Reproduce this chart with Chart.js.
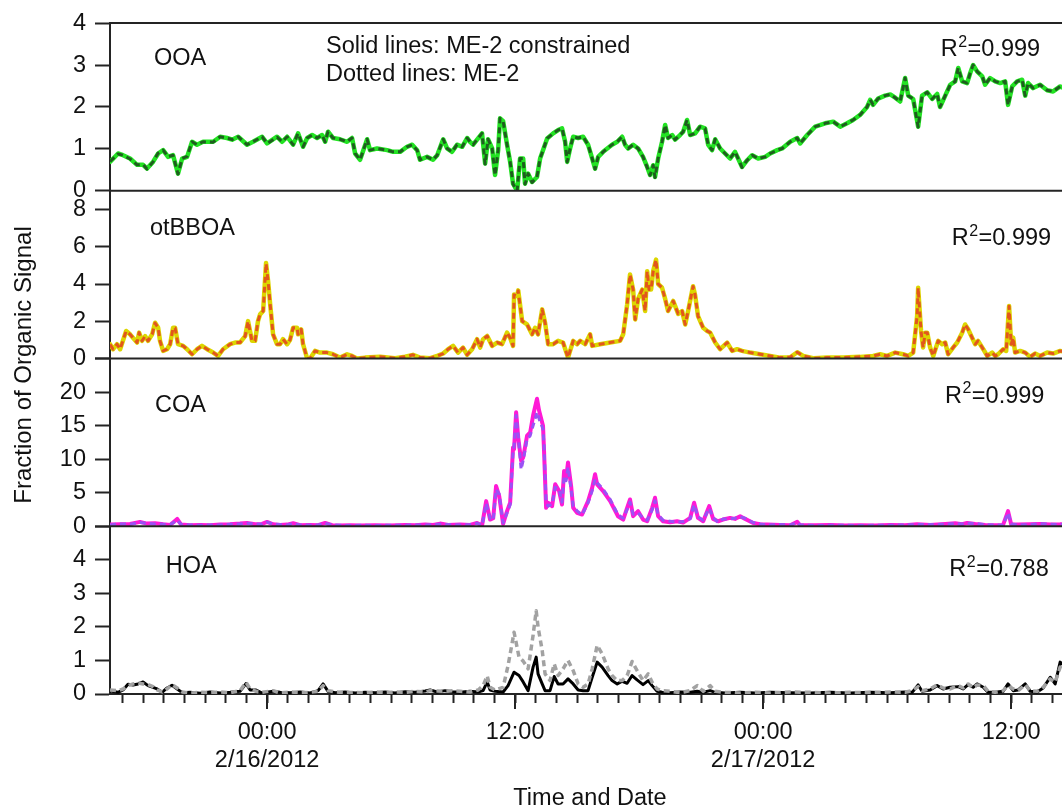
<!DOCTYPE html>
<html>
<head>
<meta charset="utf-8">
<title>ME-2 factor time series</title>
<script src="https://cdn.jsdelivr.net/npm/chart.js@4.4.1/dist/chart.umd.min.js"></script>
<style>
  html, body { margin: 0; padding: 0; background: #ffffff; }
  #wrap { position: relative; width: 1062px; height: 808px; }
</style>
</head>
<body>
<div id="wrap"><canvas id="chart"></canvas></div>
<script>
// Time is given in hours relative to 2/16/2012 00:00.
const majorHours = [0, 12, 24, 36];
const majorTimeLabels = ['00:00', '12:00', '00:00', '12:00'];
const majorDateLabels = ['2/16/2012', '', '2/17/2012', ''];

// ---- OOA ----
const ooaHours = [
  -7.60, -7.21, -6.97, -6.63, -6.29, -6.00, -5.81, -5.52, -5.27, -5.03,
  -4.79, -4.55, -4.31, -4.11, -3.87, -3.63, -3.39, -3.10, -2.61, -2.27,
  -1.94, -1.69, -1.40, -0.97, -0.68, -0.24, 0.00, 0.48, 0.73, 0.97,
  1.26, 1.50, 1.74, 1.94, 2.18, 2.42, 2.66, 2.81, 2.95, 3.19,
  3.53, 3.87, 4.11, 4.26, 4.50, 4.84, 4.98, 5.32, 5.81, 6.10,
  6.44, 6.77, 7.02, 7.26, 7.40, 7.74, 8.03, 8.23, 8.52, 8.71,
  8.95, 9.19, 9.44, 9.68, 9.82, 9.97, 10.16, 10.40, 10.55, 10.69,
  10.89, 11.03, 11.18, 11.27, 11.42, 11.61, 11.76, 11.90, 12.10, 12.24,
  12.39, 12.48, 12.63, 12.82, 13.06, 13.21, 13.55, 13.84, 14.08, 14.27,
  14.42, 14.52, 14.66, 14.81, 15.05, 15.29, 15.53, 15.73, 15.87, 16.02,
  16.26, 16.69, 16.94, 17.18, 17.32, 17.47, 17.71, 17.95, 18.19, 18.39,
  18.53, 18.68, 18.77, 18.92, 19.11, 19.26, 19.40, 19.60, 19.74, 19.98,
  20.13, 20.32, 20.47, 20.71, 20.95, 21.19, 21.34, 21.53, 21.68, 21.92,
  22.16, 22.40, 22.64, 22.79, 22.98, 23.23, 23.47, 23.76, 24.10, 24.34,
  24.68, 24.92, 25.31, 25.65, 25.79, 26.13, 26.52, 27.00, 27.39, 27.73,
  28.06, 28.35, 28.69, 29.03, 29.18, 29.32, 29.56, 29.90, 30.15, 30.39,
  30.63, 30.87, 31.02, 31.26, 31.50, 31.69, 31.94, 32.18, 32.42, 32.56,
  32.81, 33.05, 33.29, 33.44, 33.63, 33.87, 34.02, 34.16, 34.35, 34.60,
  34.74, 34.98, 35.23, 35.47, 35.71, 35.85, 36.05, 36.29, 36.53, 36.68,
  36.82, 37.06, 37.40, 37.74, 38.03, 38.37, 38.66
];
const ooaConstrained = [
  0.69, 0.89, 0.85, 0.77, 0.62, 0.62, 0.53, 0.69, 0.89, 0.97,
  0.81, 0.85, 0.41, 0.77, 0.81, 1.17, 1.10, 1.17, 1.17, 1.29,
  1.26, 1.22, 1.29, 1.10, 1.17, 1.29, 1.13, 1.29, 1.17, 1.29,
  1.10, 1.37, 1.05, 1.26, 1.33, 1.26, 1.33, 1.17, 1.41, 1.26,
  1.23, 1.17, 1.26, 0.89, 0.74, 1.23, 0.97, 1.01, 0.97, 0.93,
  0.93, 1.05, 1.10, 0.97, 0.74, 0.81, 0.74, 0.85, 1.23, 1.01,
  0.93, 1.10, 1.05, 1.26, 1.17, 1.10, 1.22, 1.37, 0.65, 1.23,
  1.01, 0.38, 0.97, 1.73, 1.66, 1.10, 0.69, 0.17, 0.00, 0.77,
  0.77, 0.17, 0.41, 0.21, 0.33, 0.77, 1.25, 1.37, 1.45, 1.49,
  1.17, 0.69, 1.01, 1.29, 1.26, 1.29, 1.10, 0.77, 0.53, 0.81,
  0.93, 1.10, 1.17, 1.29, 1.10, 1.01, 1.10, 1.01, 0.81, 0.57,
  0.38, 0.61, 0.33, 0.77, 1.17, 1.57, 1.26, 1.33, 1.22, 1.33,
  1.41, 1.69, 1.33, 1.37, 1.53, 1.49, 1.10, 0.97, 1.23, 1.01,
  0.89, 0.77, 0.93, 0.77, 0.57, 0.73, 0.85, 0.77, 0.81, 0.89,
  0.97, 1.01, 1.17, 1.26, 1.13, 1.33, 1.53, 1.61, 1.65, 1.53,
  1.61, 1.69, 1.81, 2.00, 2.17, 2.05, 2.20, 2.27, 2.30, 2.22,
  2.13, 2.69, 2.27, 2.19, 1.53, 2.27, 2.35, 2.19, 2.31, 2.00,
  2.27, 2.53, 2.61, 2.93, 2.61, 2.57, 2.81, 3.00, 2.85, 2.73,
  2.53, 2.69, 2.61, 2.57, 2.61, 2.05, 2.49, 2.61, 2.65, 2.27,
  2.57, 2.45, 2.53, 2.40, 2.37, 2.49, 2.42
];
const ooaME2 = [
  0.70, 0.88, 0.85, 0.76, 0.62, 0.63, 0.52, 0.69, 0.90, 0.97,
  0.81, 0.85, 0.40, 0.77, 0.82, 1.17, 1.10, 1.17, 1.16, 1.29,
  1.26, 1.22, 1.29, 1.10, 1.17, 1.29, 1.13, 1.28, 1.17, 1.29,
  1.10, 1.37, 1.05, 1.26, 1.33, 1.26, 1.33, 1.17, 1.41, 1.26,
  1.23, 1.17, 1.26, 0.89, 0.74, 1.23, 0.97, 1.01, 0.97, 0.93,
  0.93, 1.05, 1.10, 0.97, 0.74, 0.81, 0.74, 0.85, 1.23, 1.01,
  0.93, 1.10, 1.05, 1.26, 1.17, 1.10, 1.22, 1.37, 0.64, 1.23,
  1.01, 0.37, 0.97, 1.73, 1.66, 1.10, 0.69, 0.16, 0.00, 0.77,
  0.77, 0.16, 0.41, 0.20, 0.33, 0.77, 1.25, 1.37, 1.45, 1.49,
  1.17, 0.69, 1.01, 1.29, 1.26, 1.29, 1.10, 0.77, 0.52, 0.81,
  0.93, 1.10, 1.17, 1.29, 1.10, 1.01, 1.10, 1.01, 0.81, 0.56,
  0.37, 0.61, 0.32, 0.77, 1.17, 1.57, 1.26, 1.33, 1.22, 1.33,
  1.41, 1.69, 1.33, 1.37, 1.53, 1.49, 1.10, 0.97, 1.23, 1.01,
  0.89, 0.77, 0.93, 0.77, 0.56, 0.73, 0.85, 0.77, 0.81, 0.89,
  0.97, 1.01, 1.17, 1.26, 1.13, 1.33, 1.53, 1.61, 1.65, 1.53,
  1.61, 1.69, 1.81, 2.00, 2.17, 2.05, 2.20, 2.27, 2.30, 2.22,
  2.13, 2.69, 2.27, 2.19, 1.52, 2.27, 2.35, 2.19, 2.31, 2.00,
  2.27, 2.53, 2.61, 2.93, 2.61, 2.57, 2.81, 3.00, 2.85, 2.73,
  2.53, 2.69, 2.61, 2.57, 2.61, 2.04, 2.49, 2.61, 2.65, 2.27,
  2.57, 2.45, 2.53, 2.40, 2.37, 2.49, 2.42
];

// ---- otBBOA ----
const bboaHours = [
  -7.60, -7.45, -7.26, -7.11, -6.82, -6.63, -6.48, -6.29, -6.19, -6.05,
  -5.90, -5.76, -5.56, -5.42, -5.27, -5.18, -5.03, -4.84, -4.69, -4.55,
  -4.45, -4.31, -4.06, -3.87, -3.63, -3.39, -3.15, -2.90, -2.61, -2.37,
  -2.13, -1.79, -1.55, -1.31, -1.06, -0.92, -0.73, -0.58, -0.44, -0.34,
  -0.19, -0.05, 0.05, 0.15, 0.29, 0.48, 0.63, 0.77, 0.97, 1.11,
  1.26, 1.45, 1.50, 1.65, 1.74, 1.94, 2.08, 2.32, 2.56, 2.90,
  3.19, 3.53, 3.87, 4.11, 4.35, 4.74, 5.47, 6.19, 6.68, 7.06,
  7.40, 7.89, 8.23, 8.52, 8.76, 9.00, 9.24, 9.48, 9.68, 9.92,
  10.16, 10.31, 10.45, 10.65, 10.89, 11.13, 11.37, 11.61, 11.76, 11.90,
  11.95, 12.10, 12.15, 12.34, 12.58, 12.82, 12.97, 13.11, 13.31, 13.45,
  13.60, 13.84, 14.08, 14.32, 14.56, 14.71, 14.81, 15.00, 15.15, 15.39,
  15.63, 15.73, 16.11, 16.60, 17.08, 17.23, 17.42, 17.56, 17.71, 17.81,
  17.95, 18.15, 18.29, 18.39, 18.48, 18.58, 18.68, 18.82, 18.92, 19.11,
  19.26, 19.40, 19.65, 19.89, 20.08, 20.23, 20.37, 20.61, 20.71, 20.85,
  21.10, 21.29, 21.44, 21.68, 21.92, 22.26, 22.50, 22.74, 22.98, 23.37,
  23.85, 24.34, 24.82, 25.31, 25.65, 25.94, 26.42, 27.10, 27.87, 28.69,
  29.32, 29.66, 30.00, 30.39, 30.77, 31.02, 31.26, 31.45, 31.50, 31.64,
  31.74, 31.84, 31.94, 32.08, 32.23, 32.47, 32.66, 32.81, 32.95, 33.19,
  33.39, 33.63, 33.77, 33.92, 34.11, 34.26, 34.40, 34.65, 34.84, 35.08,
  35.23, 35.37, 35.61, 35.76, 35.90, 36.00, 36.10, 36.19, 36.44, 36.68,
  36.92, 37.16, 37.40, 37.74, 38.03, 38.37, 38.66
];
const bboaConstrained = [
  0.77, 0.50, 0.77, 0.50, 1.48, 1.30, 1.10, 0.86, 1.39, 0.95,
  1.20, 0.95, 1.30, 1.92, 1.65, 0.95, 0.41, 0.50, 0.77, 1.65,
  1.65, 0.77, 0.68, 0.50, 0.23, 0.50, 0.68, 0.50, 0.32, 0.14,
  0.50, 0.77, 0.86, 0.86, 1.20, 2.01, 0.95, 0.95, 2.01, 2.37,
  2.55, 5.13, 4.15, 2.90, 1.30, 0.77, 0.77, 1.04, 0.77, 1.00,
  1.65, 1.65, 1.30, 1.57, 0.77, 0.00, 0.00, 0.41, 0.32, 0.32,
  0.23, 0.05, 0.23, 0.14, 0.00, 0.05, 0.10, 0.02, 0.10, 0.20,
  0.05, 0.02, 0.14, 0.27, 0.50, 0.68, 0.32, 0.59, 0.20, 0.50,
  1.04, 0.59, 1.04, 1.21, 0.68, 0.86, 0.77, 1.39, 1.10, 0.68,
  3.44, 3.35, 3.66, 2.01, 1.83, 1.30, 1.65, 1.30, 2.64, 1.92,
  0.77, 0.77, 0.95, 0.86, 0.05, 0.59, 0.95, 0.77, 0.95, 0.77,
  1.30, 0.68, 0.77, 0.86, 0.95, 1.30, 2.90, 4.51, 3.70, 2.10,
  3.20, 3.70, 2.55, 4.69, 3.70, 3.70, 4.69, 5.31, 4.00, 3.80,
  3.20, 2.55, 3.09, 2.40, 2.55, 1.83, 2.55, 3.88, 3.40, 2.28,
  1.65, 1.48, 1.39, 0.86, 0.50, 0.86, 0.41, 0.50, 0.41, 0.32,
  0.23, 0.14, 0.05, 0.07, 0.34, 0.14, 0.02, 0.05, 0.05, 0.09,
  0.14, 0.23, 0.14, 0.32, 0.23, 0.14, 0.32, 2.28, 3.80, 1.48,
  0.59, 1.39, 1.39, 0.59, 0.14, 0.95, 0.77, 0.86, 0.23, 0.59,
  0.86, 1.39, 1.83, 1.57, 1.12, 0.77, 0.95, 0.50, 0.14, 0.32,
  0.14, 0.23, 0.50, 0.41, 2.82, 0.77, 1.12, 0.32, 0.41, 0.32,
  0.09, 0.27, 0.14, 0.32, 0.27, 0.41, 0.35
];
const bboaME2 = [
  0.76, 0.50, 0.77, 0.51, 1.47, 1.30, 1.10, 0.86, 1.39, 0.95,
  1.20, 0.95, 1.30, 1.91, 1.65, 0.95, 0.41, 0.50, 0.77, 1.65,
  1.64, 0.77, 0.68, 0.50, 0.23, 0.50, 0.68, 0.50, 0.32, 0.14,
  0.50, 0.77, 0.86, 0.86, 1.20, 2.00, 0.95, 0.95, 2.01, 2.37,
  2.55, 5.10, 4.15, 2.90, 1.30, 0.77, 0.77, 1.04, 0.77, 1.00,
  1.65, 1.65, 1.30, 1.57, 0.77, 0.00, 0.00, 0.41, 0.32, 0.32,
  0.23, 0.05, 0.23, 0.14, 0.00, 0.05, 0.10, 0.02, 0.10, 0.20,
  0.05, 0.02, 0.14, 0.27, 0.50, 0.68, 0.32, 0.59, 0.20, 0.50,
  1.04, 0.59, 1.04, 1.21, 0.68, 0.86, 0.77, 1.39, 1.10, 0.68,
  3.42, 3.35, 3.64, 2.01, 1.83, 1.30, 1.65, 1.30, 2.63, 1.92,
  0.77, 0.77, 0.95, 0.86, 0.05, 0.59, 0.95, 0.77, 0.95, 0.77,
  1.30, 0.68, 0.77, 0.86, 0.95, 1.30, 2.90, 4.50, 3.70, 2.10,
  3.20, 3.70, 2.55, 4.68, 3.70, 3.70, 4.68, 5.30, 4.00, 3.80,
  3.20, 2.55, 3.09, 2.40, 2.55, 1.83, 2.55, 3.87, 3.40, 2.28,
  1.65, 1.48, 1.39, 0.86, 0.50, 0.86, 0.41, 0.50, 0.41, 0.32,
  0.23, 0.14, 0.05, 0.07, 0.34, 0.14, 0.02, 0.05, 0.05, 0.09,
  0.14, 0.23, 0.14, 0.32, 0.23, 0.14, 0.32, 2.27, 3.79, 1.48,
  0.59, 1.39, 1.39, 0.59, 0.14, 0.95, 0.77, 0.86, 0.23, 0.59,
  0.86, 1.39, 1.83, 1.57, 1.12, 0.77, 0.95, 0.50, 0.14, 0.32,
  0.14, 0.23, 0.50, 0.41, 2.81, 0.77, 1.12, 0.32, 0.41, 0.32,
  0.09, 0.27, 0.14, 0.32, 0.27, 0.41, 0.35
];

// ---- COA ----
const coaHours = [
  -7.60, -7.11, -6.63, -6.15, -5.81, -5.42, -5.03, -4.69, -4.35, -4.16,
  -3.73, -3.24, -2.76, -2.27, -1.79, -1.31, -0.97, -0.58, -0.24, 0.00,
  0.29, 0.63, 0.97, 1.26, 1.60, 2.08, 2.47, 2.81, 3.15, 3.53,
  4.02, 4.50, 5.23, 5.95, 6.68, 7.16, 7.65, 8.03, 8.37, 8.76,
  9.34, 9.82, 10.16, 10.40, 10.60, 10.79, 10.94, 11.08, 11.23, 11.42,
  11.61, 11.76, 11.90, 11.95, 12.05, 12.15, 12.29, 12.39, 12.58, 12.73,
  12.87, 13.06, 13.16, 13.35, 13.40, 13.50, 13.60, 13.79, 13.94, 14.13,
  14.27, 14.37, 14.47, 14.56, 14.71, 14.81, 15.00, 15.24, 15.53, 15.73,
  15.87, 15.97, 16.26, 16.60, 16.98, 17.23, 17.42, 17.56, 17.71, 17.95,
  18.19, 18.39, 18.63, 18.77, 18.92, 19.16, 19.50, 19.84, 20.13, 20.47,
  20.66, 20.85, 21.10, 21.39, 21.58, 21.82, 22.06, 22.40, 22.64, 22.89,
  23.13, 23.52, 23.85, 24.19, 24.82, 25.31, 25.65, 25.79, 26.52, 27.24,
  27.97, 28.69, 29.42, 30.15, 30.87, 31.45, 32.08, 32.81, 33.29, 33.63,
  33.87, 34.26, 34.74, 35.23, 35.61, 35.85, 36.00, 36.34, 36.92, 37.40,
  37.89, 38.37, 38.66
];
const coaConstrained = [
  0.25, 0.30, 0.35, 0.65, 0.40, 0.45, 0.30, 0.20, 1.10, 0.25,
  0.15, 0.20, 0.15, 0.25, 0.30, 0.40, 0.50, 0.30, 0.35, 0.65,
  0.30, 0.20, 0.25, 0.45, 0.15, 0.20, 0.15, 0.50, 0.15, 0.10,
  0.15, 0.10, 0.15, 0.10, 0.20, 0.15, 0.25, 0.20, 0.40, 0.20,
  0.25, 0.20, 0.50, 0.10, 3.75, 1.00, 1.20, 6.00, 4.50, 0.35,
  2.25, 3.50, 11.75, 11.50, 17.00, 13.25, 9.75, 10.25, 13.50, 14.00,
  16.50, 19.00, 17.25, 15.00, 11.25, 2.75, 3.50, 3.00, 6.25, 5.25,
  3.25, 8.25, 7.25, 9.50, 6.00, 2.75, 2.00, 1.75, 3.75, 5.75,
  7.75, 6.25, 5.25, 3.75, 1.50, 1.00, 2.75, 4.00, 1.50, 2.25,
  1.00, 0.75, 2.75, 4.25, 1.50, 0.75, 0.60, 0.75, 0.55, 1.25,
  3.50, 1.25, 0.75, 3.00, 1.10, 0.75, 1.00, 1.25, 1.10, 1.50,
  1.10, 0.50, 0.30, 0.25, 0.20, 0.15, 0.65, 0.15, 0.15, 0.20,
  0.10, 0.15, 0.10, 0.20, 0.15, 0.30, 0.20, 0.35, 0.45, 0.30,
  0.50, 0.35, 0.20, 0.15, 0.20, 2.25, 0.30, 0.25, 0.30, 0.35,
  0.25, 0.30, 0.35
];
const coaME2 = [
  0.20, 0.35, 0.30, 0.55, 0.45, 0.35, 0.30, 0.25, 0.90, 0.30,
  0.20, 0.15, 0.20, 0.20, 0.30, 0.35, 0.45, 0.35, 0.30, 0.60,
  0.35, 0.25, 0.20, 0.40, 0.20, 0.15, 0.20, 0.45, 0.20, 0.15,
  0.10, 0.15, 0.12, 0.15, 0.15, 0.20, 0.20, 0.25, 0.30, 0.25,
  0.20, 0.25, 0.45, 0.15, 3.40, 1.20, 0.90, 5.50, 4.80, 0.50,
  2.00, 3.20, 11.00, 12.00, 16.50, 13.50, 8.50, 9.80, 13.00, 13.50,
  15.00, 17.00, 16.00, 14.50, 12.00, 3.50, 3.00, 3.30, 5.80, 5.50,
  3.60, 7.50, 6.80, 8.80, 5.50, 3.00, 2.30, 1.70, 3.50, 5.30,
  7.00, 6.50, 5.50, 4.00, 1.70, 1.20, 2.50, 3.60, 1.80, 2.00,
  1.20, 0.90, 2.40, 3.80, 1.70, 0.90, 0.75, 0.60, 0.70, 1.10,
  3.20, 1.40, 0.90, 2.70, 1.30, 0.60, 1.10, 1.10, 1.20, 1.40,
  1.20, 0.55, 0.35, 0.20, 0.25, 0.20, 0.55, 0.20, 0.10, 0.15,
  0.15, 0.10, 0.15, 0.15, 0.20, 0.25, 0.25, 0.30, 0.40, 0.35,
  0.45, 0.40, 0.25, 0.20, 0.15, 2.00, 0.35, 0.20, 0.25, 0.40,
  0.30, 0.25, 0.30
];

// ---- HOA ----
const hoaHours = [
  -7.60, -7.21, -6.97, -6.73, -6.48, -6.24, -6.00, -5.76, -5.52, -5.32,
  -5.08, -4.84, -4.60, -4.35, -4.11, -3.73, -3.24, -2.76, -2.27, -1.79,
  -1.31, -1.02, -0.82, -0.53, -0.24, 0.29, 0.63, 1.11, 1.60, 2.08,
  2.47, 2.71, 2.95, 3.29, 3.77, 4.26, 4.74, 5.23, 5.71, 6.19,
  6.68, 7.16, 7.65, 7.89, 8.23, 8.61, 8.95, 9.34, 9.82, 10.21,
  10.45, 10.65, 10.79, 11.03, 11.42, 11.66, 11.95, 12.19, 12.39, 12.63,
  12.87, 13.02, 13.11, 13.31, 13.45, 13.69, 13.89, 14.08, 14.32, 14.56,
  14.81, 15.05, 15.29, 15.53, 15.73, 15.97, 16.21, 16.50, 16.69, 16.94,
  17.18, 17.42, 17.66, 17.90, 18.19, 18.44, 18.63, 18.87, 19.11, 19.50,
  19.98, 20.47, 20.81, 21.10, 21.44, 21.68, 22.16, 22.89, 23.61, 24.34,
  25.31, 26.27, 27.24, 28.21, 29.18, 30.15, 30.87, 31.21, 31.50, 31.69,
  32.08, 32.42, 32.71, 33.05, 33.44, 33.68, 33.92, 34.16, 34.35, 34.65,
  34.89, 35.23, 35.61, 35.85, 36.10, 36.34, 36.68, 36.92, 37.26, 37.55,
  37.89, 38.13, 38.37, 38.66
];
const hoaConstrained = [
  0.09, 0.05, 0.12, 0.29, 0.27, 0.30, 0.36, 0.25, 0.20, 0.15,
  0.05, 0.18, 0.26, 0.15, 0.04, 0.05, 0.02, 0.06, 0.03, 0.05,
  0.08, 0.31, 0.12, 0.12, 0.03, 0.08, 0.05, 0.04, 0.06, 0.03,
  0.10, 0.30, 0.08, 0.04, 0.06, 0.03, 0.05, 0.04, 0.06, 0.03,
  0.07, 0.05, 0.09, 0.12, 0.06, 0.10, 0.07, 0.05, 0.08, 0.06,
  0.10, 0.36, 0.12, 0.08, 0.06, 0.25, 0.65, 0.55, 0.36, 0.10,
  0.80, 1.10, 0.60, 0.30, 0.10, 0.10, 0.52, 0.30, 0.30, 0.45,
  0.30, 0.12, 0.10, 0.10, 0.50, 0.95, 0.80, 0.55, 0.40, 0.30,
  0.38, 0.32, 0.55, 0.42, 0.28, 0.40, 0.25, 0.08, 0.05, 0.04,
  0.06, 0.05, 0.08, 0.05, 0.10, 0.05, 0.03, 0.05, 0.03, 0.05,
  0.04, 0.03, 0.05, 0.03, 0.05, 0.04, 0.06, 0.05, 0.27, 0.08,
  0.12, 0.25, 0.15, 0.20, 0.22, 0.15, 0.28, 0.20, 0.30, 0.20,
  0.05, 0.05, 0.08, 0.30, 0.10, 0.12, 0.30, 0.08, 0.06, 0.18,
  0.50, 0.30, 0.95, 0.80
];
const hoaME2 = [
  0.12, 0.10, 0.15, 0.25, 0.30, 0.33, 0.30, 0.28, 0.22, 0.12,
  0.06, 0.15, 0.28, 0.18, 0.06, 0.03, 0.05, 0.04, 0.06, 0.04,
  0.10, 0.35, 0.15, 0.08, 0.05, 0.10, 0.03, 0.06, 0.04, 0.05,
  0.08, 0.25, 0.10, 0.06, 0.04, 0.05, 0.03, 0.06, 0.04, 0.06,
  0.05, 0.08, 0.06, 0.10, 0.09, 0.08, 0.10, 0.08, 0.06, 0.12,
  0.25, 0.54, 0.20, 0.12, 0.20, 0.85, 1.84, 1.10, 0.98, 0.75,
  1.75, 2.48, 2.00, 1.30, 0.60, 0.40, 0.90, 0.55, 0.75, 1.00,
  0.70, 0.30, 0.20, 0.30, 0.75, 1.45, 1.20, 0.75, 0.55, 0.40,
  0.40, 0.55, 0.97, 0.70, 0.40, 0.60, 0.35, 0.15, 0.10, 0.08,
  0.04, 0.10, 0.25, 0.08, 0.25, 0.08, 0.05, 0.03, 0.05, 0.03,
  0.06, 0.05, 0.03, 0.05, 0.04, 0.06, 0.05, 0.10, 0.22, 0.10,
  0.15, 0.27, 0.18, 0.15, 0.25, 0.18, 0.30, 0.18, 0.27, 0.25,
  0.08, 0.05, 0.10, 0.25, 0.15, 0.10, 0.28, 0.10, 0.08, 0.20,
  0.45, 0.35, 0.80, 0.70
];

const TEXT = '#111111';
const AXIS = '#242424';
const FONT = '"Liberation Sans", Arial, sans-serif';
const FSIZE = 23.5;

Chart.defaults.font.family = FONT;
Chart.defaults.color = TEXT;

function series(hours, values) {
  return hours.map((h, i) => ({ x: h, y: values[i] }));
}

function solid(label, hours, values, color, axis, width) {
  return {
    label, data: series(hours, values), yAxisID: axis,
    borderColor: color, borderWidth: width, pointRadius: 0,
    borderJoinStyle: 'round', borderCapStyle: 'round',
    tension: 0, fill: false, order: 2
  };
}

function dashed(label, hours, values, color, axis, width) {
  return {
    label, data: series(hours, values), yAxisID: axis,
    borderColor: color, borderWidth: width, borderDash: [6, 4], pointRadius: 0,
    borderJoinStyle: 'round', borderCapStyle: 'butt',
    tension: 0, fill: false, order: 1
  };
}

function panelAxis(max, step, weight, hideTop) {
  return {
    type: 'linear', position: 'left', stack: 'panels', stackWeight: 1, weight,
    min: 0, max,
    afterFit: s => { s.width = 110; },
    border: { display: true, color: AXIS, width: 2 },
    grid: { drawOnChartArea: false, drawTicks: true, tickLength: 15, tickWidth: 2, tickColor: AXIS },
    ticks: {
      stepSize: step, includeBounds: false, autoSkip: false, padding: 9,
      color: TEXT, font: { size: FSIZE },
      callback: v => (hideTop && v === max) ? '' : String(v)
    }
  };
}

// Panel names and fit quality, placed relative to each panel's top edge.
const panelText = [
  { axis: 'yOOA',  name: 'OOA',    nameX: 154,   nameDy: 42.3, r2: '0.999', r2X: 940.7, r2Dy: 33.0 },
  { axis: 'yBBOA', name: 'otBBOA', nameX: 150,   nameDy: 43.7, r2: '0.999', r2X: 951.7, r2Dy: 54.3 },
  { axis: 'yCOA',  name: 'COA',    nameX: 155,   nameDy: 53.0, r2: '0.999', r2X: 945.0, r2Dy: 44.0 },
  { axis: 'yHOA',  name: 'HOA',    nameX: 165.7, nameDy: 46.7, r2: '0.788', r2X: 949.3, r2Dy: 50.0 }
];

const decorations = {
  id: 'decorations',
  afterDraw(chart) {
    const ctx = chart.ctx;
    const area = chart.chartArea;
    const x = chart.scales.x;
    ctx.save();

    // panel separators
    ctx.strokeStyle = AXIS;
    ctx.lineWidth = 2;
    ['yOOA', 'yBBOA', 'yCOA', 'yHOA'].forEach(id => {
      const s = chart.scales[id];
      ctx.beginPath();
      ctx.moveTo(area.left - 1, s.top);
      ctx.lineTo(area.right, s.top);
      ctx.stroke();
    });

    // longer marks at 00:00 and 12:00
    majorHours.forEach(h => {
      const px = Math.round(x.getPixelForValue(h));
      ctx.beginPath();
      ctx.moveTo(px, area.bottom);
      ctx.lineTo(px, area.bottom + 15);
      ctx.stroke();
    });

    ctx.fillStyle = TEXT;
    ctx.textAlign = 'left';
    ctx.textBaseline = 'alphabetic';
    const big = FSIZE + 'px ' + FONT;
    const small = '16px ' + FONT;

    panelText.forEach(p => {
      const s = chart.scales[p.axis];
      ctx.font = big;
      ctx.fillText(p.name, p.nameX, s.top + p.nameDy);
      const by = s.top + p.r2Dy;
      ctx.fillText('R', p.r2X, by);
      const wR = ctx.measureText('R').width;
      ctx.font = small;
      ctx.fillText('2', p.r2X + wR + 0.5, by - 9.5);
      const w2 = ctx.measureText('2').width;
      ctx.font = big;
      ctx.fillText('=' + p.r2, p.r2X + wR + w2 + 1, by);
    });

    ctx.font = big;
    const top = chart.scales.yOOA.top;
    ctx.fillText('Solid lines: ME-2 constrained', 326, top + 29.7);
    ctx.fillText('Dotted lines: ME-2', 326, top + 58);

    // axis titles
    ctx.textAlign = 'center';
    ctx.fillText('Time and Date', 590, 805);
    ctx.save();
    ctx.translate(30.7, 365);
    ctx.rotate(-Math.PI / 2);
    ctx.font = '24px ' + FONT;
    ctx.fillText('Fraction of Organic Signal', 0, 0);
    ctx.restore();

    ctx.restore();
  }
};

new Chart(document.getElementById('chart'), {
  type: 'line',
  data: {
    datasets: [
      dashed('OOA ME-2', ooaHours, ooaME2, '#1e5e1e', 'yOOA', 3),
      solid('OOA ME-2 constrained', ooaHours, ooaConstrained, '#22e322', 'yOOA', 4.5),
      dashed('otBBOA ME-2', bboaHours, bboaME2, '#e2561c', 'yBBOA', 3),
      solid('otBBOA ME-2 constrained', bboaHours, bboaConstrained, '#dcd600', 'yBBOA', 4.5),
      dashed('COA ME-2', coaHours, coaME2, '#9a52f4', 'yCOA', 3),
      solid('COA ME-2 constrained', coaHours, coaConstrained, '#ff19d6', 'yCOA', 4),
      dashed('HOA ME-2', hoaHours, hoaME2, '#a2a2a2', 'yHOA', 3.5),
      solid('HOA ME-2 constrained', hoaHours, hoaConstrained, '#000000', 'yHOA', 3)
    ]
  },
  options: {
    responsive: true,
    maintainAspectRatio: false,
    animation: false,
    devicePixelRatio: 1,
    layout: { padding: { top: 22, right: 0, bottom: 0, left: 0 } },
    plugins: { legend: { display: false }, tooltip: { enabled: false } },
    scales: {
      x: {
        type: 'linear', position: 'bottom',
        min: -7.6, max: 38.46,
        afterFit: s => { s.height = 114; s.paddingLeft = 0; s.paddingRight = 0; },
        border: { display: true, color: AXIS, width: 2 },
        grid: { drawOnChartArea: false, drawTicks: true, tickLength: 9, tickWidth: 2, tickColor: AXIS },
        ticks: {
          stepSize: 1, maxTicksLimit: 200, includeBounds: false, autoSkip: false,
          maxRotation: 0, minRotation: 0, padding: 15,
          color: TEXT, font: { size: FSIZE, lineHeight: 1.2 },
          callback: v => {
            const k = majorHours.indexOf(v);
            if (k < 0) return '';
            return majorDateLabels[k] ? [majorTimeLabels[k], majorDateLabels[k]] : majorTimeLabels[k];
          }
        }
      },
      yOOA: panelAxis(4, 1, 4, false),
      yBBOA: panelAxis(9, 2, 3, false),
      yCOA: panelAxis(25, 5, 2, true),
      yHOA: panelAxis(5, 1, 1, true)
    }
  },
  plugins: [decorations]
});
</script>
</body>
</html>
